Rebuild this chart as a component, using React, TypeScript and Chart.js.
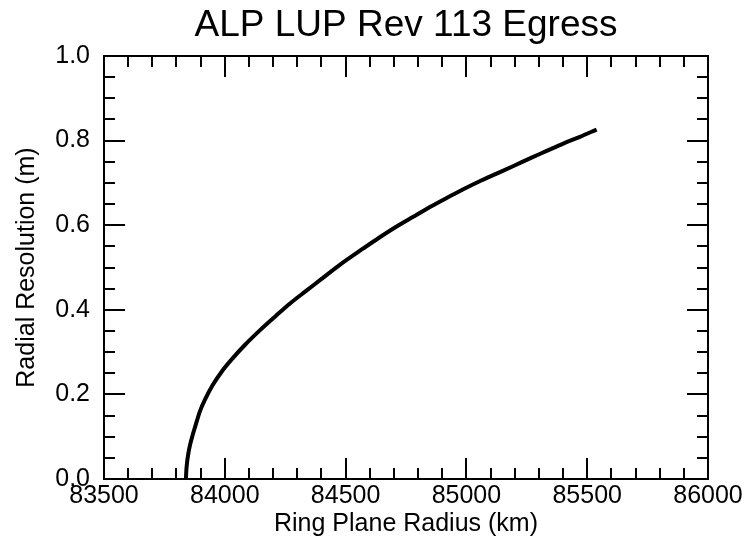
import React, { useEffect, useRef } from 'react';
import { Chart, registerables } from 'chart.js';

Chart.register(...registerables);

const TITLE = 'ALP LUP Rev 113 Egress';
const X_TITLE = 'Ring Plane Radius (km)';
const Y_TITLE = 'Radial Resolution (m)';

const radiusKm = [83839, 83841, 83844, 83849, 83856, 83865, 83878, 83897, 83920, 83950, 83990, 84035, 84085, 84146, 84210, 84270, 84335, 84394, 84480, 84573, 84640, 84711, 84780, 84849, 84920, 84987, 85055, 85125, 85195, 85263, 85330, 85401, 85470, 85539];
const resolutionM = [0.0, 0.022, 0.040, 0.060, 0.080, 0.100, 0.125, 0.160, 0.190, 0.222, 0.256, 0.287, 0.318, 0.352, 0.385, 0.415, 0.444, 0.470, 0.508, 0.545, 0.571, 0.597, 0.620, 0.643, 0.665, 0.685, 0.704, 0.722, 0.740, 0.758, 0.775, 0.793, 0.809, 0.826];

const xTickValues = [83500, 84000, 84500, 85000, 85500, 86000];
const xTickLabels = ['83500', '84000', '84500', '85000', '85500', '86000'];
const yTickValues = [0, 0.2, 0.4, 0.6, 0.8, 1.0];
const yTickLabels = ['0.0', '0.2', '0.4', '0.6', '0.8', '1.0'];
const xMinorStep = 100;
const yMinorStep = 0.05;

const FONT = '"Liberation Sans", Arial, Helvetica, sans-serif';

const framePlugin = {
  id: 'idlFrame',
  afterDraw(chart: any) {
    const { ctx, chartArea, scales } = chart;
    const { left, right, top, bottom } = chartArea;
    const x = scales.x;
    const y = scales.y;
    ctx.save();
    ctx.strokeStyle = '#000';
    ctx.lineWidth = 2;
    ctx.lineCap = 'butt';
    ctx.strokeRect(left, top, right - left, bottom - top);
    ctx.beginPath();
    const majorLen = 21;
    const minorLen = 11;
    for (let i = 0; ; i++) {
      const v = x.min + i * xMinorStep;
      if (v > x.max + 1e-6) break;
      const px = Math.round(x.getPixelForValue(v));
      const major = xTickValues.some((t) => Math.abs(t - v) < 1e-6);
      const len = major ? majorLen : minorLen;
      ctx.moveTo(px, bottom);
      ctx.lineTo(px, bottom - len);
      ctx.moveTo(px, top);
      ctx.lineTo(px, top + len);
    }
    for (let i = 0; ; i++) {
      const v = y.min + i * yMinorStep;
      if (v > y.max + 1e-6) break;
      const py = Math.round(y.getPixelForValue(v));
      const major = yTickValues.some((t) => Math.abs(t - v) < 1e-6);
      const len = major ? majorLen : minorLen;
      ctx.moveTo(left, py);
      ctx.lineTo(left + len, py);
      ctx.moveTo(right, py);
      ctx.lineTo(right - len, py);
    }
    ctx.stroke();
    ctx.restore();
  },
};

export default function App() {
  const canvasRef = useRef<HTMLCanvasElement | null>(null);

  useEffect(() => {
    const canvas = canvasRef.current;
    if (!canvas) return;
    const points = radiusKm.map((r, i) => ({ x: r, y: resolutionM[i] }));
    const chart = new Chart(canvas, {
      type: 'line',
      data: {
        datasets: [
          {
            data: points,
            borderColor: '#000',
            borderWidth: 4,
            pointRadius: 0,
            fill: false,
            cubicInterpolationMode: 'monotone',
          },
        ],
      },
      options: {
        responsive: false,
        animation: false,
        devicePixelRatio: 1,
        layout: { padding: { left: 0, right: 40, top: 0, bottom: 0 } },
        plugins: {
          legend: { display: false },
          tooltip: { enabled: false },
          title: {
            display: true,
            text: TITLE,
            color: '#000',
            fullSize: false,
            font: { family: FONT, size: 37, weight: 'normal', lineHeight: 1 },
            padding: { top: 7, bottom: 12 },
          },
        },
        scales: {
          x: {
            type: 'linear',
            min: 83500,
            max: 86000,
            grid: { display: false, drawTicks: false },
            border: { display: false },
            afterBuildTicks: (scale: any) => {
              scale.ticks = xTickValues.map((v) => ({ value: v }));
            },
            afterFit: (scale: any) => {
              scale.height = 61;
            },
            ticks: {
              autoSkip: false,
              maxRotation: 0,
              padding: 2,
              color: '#000',
              font: { family: FONT, size: 25, lineHeight: 1.2 },
              callback: (_v: any, i: number) => xTickLabels[i],
            },
            title: {
              display: true,
              text: X_TITLE,
              color: '#000',
              font: { family: FONT, size: 25, lineHeight: 1.2 },
              padding: { top: 0, bottom: 1 },
            },
          },
          y: {
            type: 'linear',
            min: 0,
            max: 1,
            grid: { display: false, drawTicks: false },
            border: { display: false },
            afterBuildTicks: (scale: any) => {
              scale.ticks = yTickValues.map((v) => ({ value: v }));
            },
            afterFit: (scale: any) => {
              scale.width = 104;
            },
            ticks: {
              autoSkip: false,
              padding: 14,
              color: '#000',
              font: { family: FONT, size: 25, lineHeight: 1.2 },
              callback: (_v: any, i: number) => yTickLabels[i],
            },
            title: {
              display: true,
              text: Y_TITLE,
              color: '#000',
              font: { family: FONT, size: 25, lineHeight: 1.2 },
              padding: { top: 12, bottom: 0 },
            },
          },
        },
      },
      plugins: [framePlugin],
    } as any);
    return () => chart.destroy();
  }, []);

  return (
    <div style={{ position: 'fixed', left: 0, top: 0, width: 748, height: 540, background: '#fff' }}>
      <canvas ref={canvasRef} width={748} height={540} style={{ display: 'block', width: 748, height: 540 }} />
    </div>
  );
}
